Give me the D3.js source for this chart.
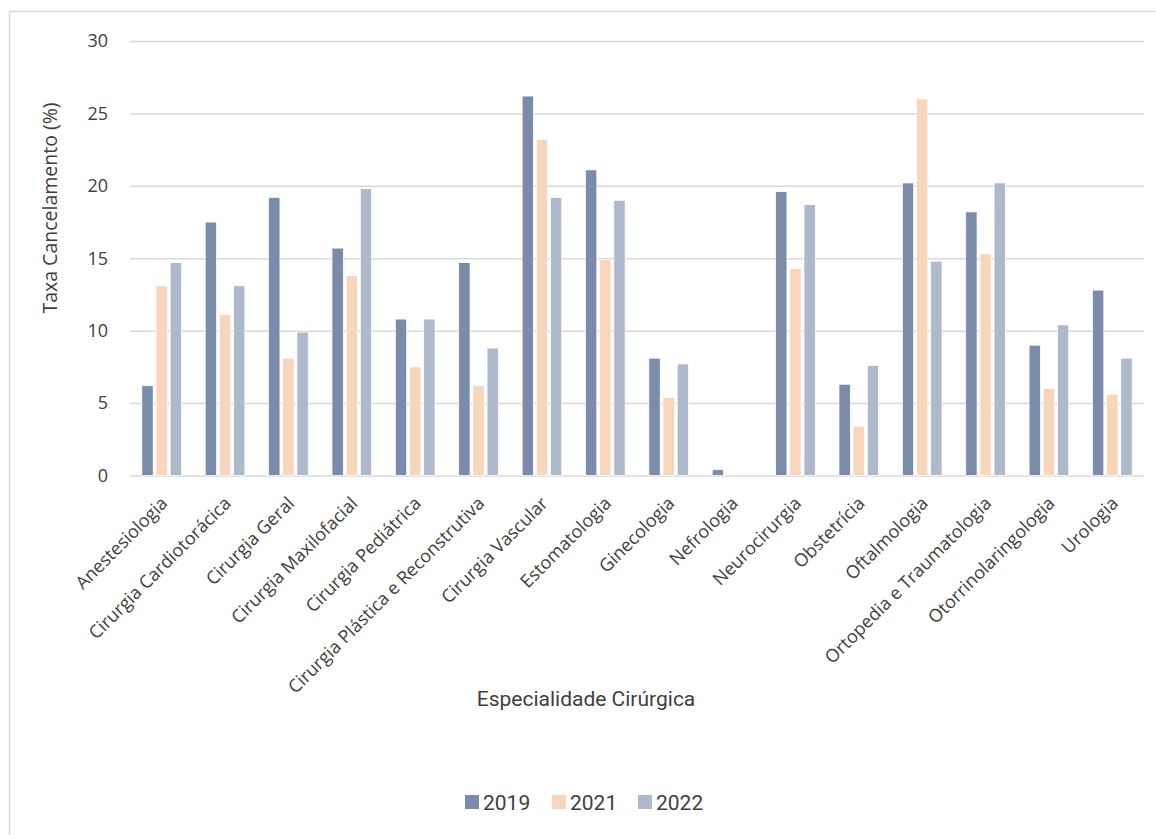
<!DOCTYPE html>
<html>
<head>
<meta charset="utf-8">
<script src="https://cdn.jsdelivr.net/npm/d3@7"></script>
<style>
  body { margin: 0; background: #fff; }
  svg { display: block; }
</style>
</head>
<body>
<svg id="chart"></svg>
<script>
const w = 1156;
const h = 835;

const categories = [
  "Anestesiologia", "Cirurgia Cardiotorácica", "Cirurgia Geral", "Cirurgia Maxilofacial",
  "Cirurgia Pediátrica", "Cirurgia Plástica e Reconstrutiva", "Cirurgia Vascular", "Estomatologia",
  "Ginecologia", "Nefrologia", "Neurocirurgia", "Obstetrícia", "Oftalmologia",
  "Ortopedia e Traumatologia", "Otorrinolaringologia", "Urologia"
];
const years = ["2019", "2021", "2022"];
const values2019 = [6.2, 17.5, 19.2, 15.7, 10.8, 14.7, 26.2, 21.1, 8.1, 0.4, 19.6, 6.3, 20.2, 18.2, 9.0, 12.8];
const values2021 = [13.1, 11.1, 8.1, 13.8, 7.5, 6.2, 23.2, 14.9, 5.4, 0, 14.3, 3.4, 26.0, 15.3, 6.0, 5.6];
const values2022 = [14.7, 13.1, 9.9, 19.8, 10.8, 8.8, 19.2, 19.0, 7.7, 0, 18.7, 7.6, 14.8, 20.2, 10.4, 8.1];
const yTicks = [0, 5, 10, 15, 20, 25, 30];

const colors = { "2019": "#7a8caa", "2021": "#f8d6bb", "2022": "#aebacb" };
const series = { "2019": values2019, "2021": values2021, "2022": values2022 };

const tickFont = "'Open Sans', 'Noto Sans', sans-serif";
const sqFont = "Roboto, 'Open Sans', sans-serif";

const svg = d3.select("#chart")
  .attr("width", w)
  .attr("height", h);

// outer frame, like the chart area border
svg.append("rect")
  .attr("x", 9.5).attr("y", 11.5)
  .attr("width", w + 10).attr("height", h)
  .attr("fill", "none")
  .attr("stroke", "#d9d9d9")
  .attr("stroke-width", 1.5);

const plot = { left: 130, right: 1144, top: 41, bottom: 475.5 };

const y = d3.scaleLinear()
  .domain([0, 30])
  .range([plot.bottom, plot.top]);

const x0 = d3.scaleBand()
  .domain(categories)
  .range([plot.left, plot.right])
  .paddingInner(0.374)
  .paddingOuter(0.187);

const x1 = d3.scaleBand()
  .domain(years)
  .range([0, x0.bandwidth()])
  .paddingInner(0.2)
  .paddingOuter(0);

// gridlines
const yAxis = d3.axisLeft(y)
  .tickValues(yTicks)
  .tickSize(-(plot.right - plot.left))
  .tickPadding(22);

const grid = svg.append("g")
  .attr("transform", `translate(${plot.left},0)`)
  .call(yAxis);
grid.select(".domain").remove();
grid.selectAll(".tick line")
  .attr("stroke", "#d9d9d9")
  .attr("stroke-width", 1.5);
grid.selectAll(".tick text")
  .attr("fill", "#404040")
  .attr("font-family", tickFont)
  .attr("font-size", 18);

// bars
const rows = categories.map((c, i) => ({ cat: c, vals: years.map(yr => ({ year: yr, v: series[yr][i] })) }));

svg.append("g")
  .selectAll("g")
  .data(rows)
  .enter()
  .append("g")
  .attr("transform", d => `translate(${x0(d.cat)},0)`)
  .selectAll("rect")
  .data(d => d.vals.filter(e => e.v > 0))
  .enter()
  .append("rect")
  .attr("x", d => x1(d.year))
  .attr("y", d => y(d.v))
  .attr("width", x1.bandwidth())
  .attr("height", d => y(0) - y(d.v))
  .attr("fill", d => colors[d.year])
  .attr("stroke", "#fff")
  .attr("stroke-width", 0.75);

// category labels, rotated
svg.append("g")
  .selectAll("text")
  .data(categories)
  .enter()
  .append("text")
  .text(d => d)
  .attr("transform", d => `translate(${x0(d) + x0.bandwidth() / 2 + 7},${plot.bottom + 29}) rotate(-45)`)
  .attr("text-anchor", "end")
  .attr("font-family", tickFont)
  .attr("font-size", 18)
  .attr("fill", "#404040");

// axis titles
svg.append("text")
  .text("Taxa Cancelamento (%)")
  .attr("transform", `translate(57,208) rotate(-90)`)
  .attr("text-anchor", "middle")
  .attr("font-family", tickFont)
  .attr("font-size", 19.5)
  .attr("fill", "#404040");

svg.append("text")
  .text("Especialidade Cirúrgica")
  .attr("x", 586)
  .attr("y", 706)
  .attr("text-anchor", "middle")
  .attr("font-family", sqFont)
  .attr("font-size", 21)
  .attr("fill", "#404040");

// legend
const legendX = [465, 552, 638];
const legend = svg.append("g")
  .selectAll("g")
  .data(years)
  .enter()
  .append("g")
  .attr("transform", (d, i) => `translate(${legendX[i]},795)`);

legend.append("rect")
  .attr("width", 14)
  .attr("height", 14)
  .attr("fill", d => colors[d]);

legend.append("text")
  .text(d => d)
  .attr("x", 18)
  .attr("y", 14.5)
  .attr("font-family", sqFont)
  .attr("font-size", 21)
  .attr("fill", "#404040");
</script>
</body>
</html>
